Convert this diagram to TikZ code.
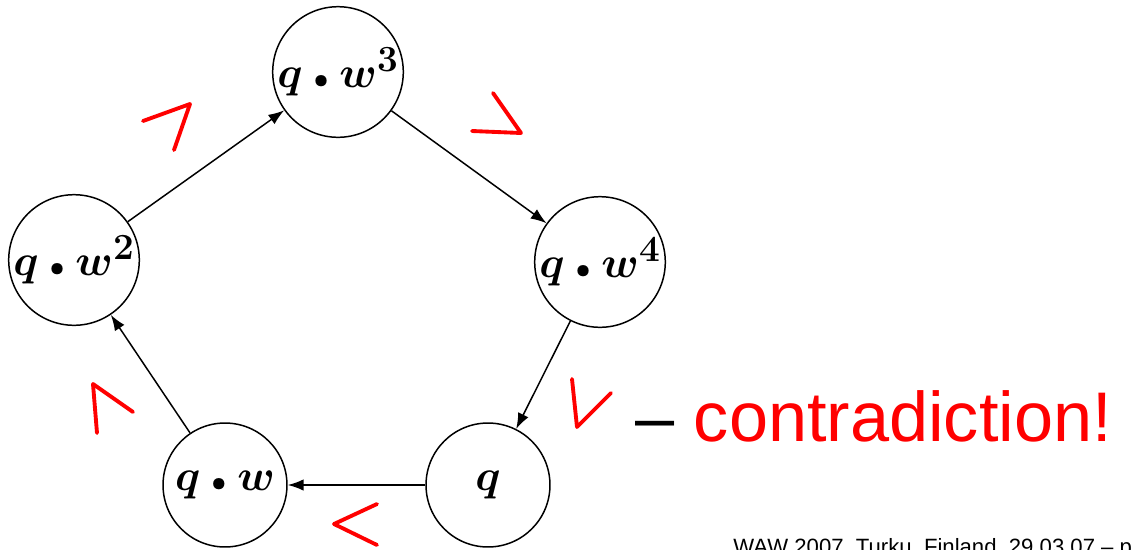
\documentclass[tikz,border=0pt]{standalone}
\usepackage{bm}
\usepackage[no-math]{fontspec}
\newfontfamily\slidefont{Liberation Sans}
\usetikzlibrary{arrows.meta}
\newcommand{\wdot}{\mathbin{\scriptscriptstyle\bullet}}
\newcommand{\wexp}[1]{^{\mbox{\fontsize{21}{22}\selectfont\bfseries #1}}}
\begin{document}
\begin{tikzpicture}[
  x=0.02cm,y=-0.02cm,
  state/.style={draw, circle, line width=0.85pt, inner sep=0pt, minimum size=2.48cm,
    font=\fontsize{29}{32}\selectfont\boldmath},
  trans/.style={-{Latex[length=9pt,width=6.5pt]}, line width=0.85pt},
  relmark/.style={draw=red, line width=2.2pt, line cap=round, line join=round}
]

% Canvas: 1134x549 px
\useasboundingbox (0,0) rectangle (1134,549);
\clip (0,0) rectangle (1134,549);

% States of the cycle
\node[state] (qw3) at (338,72) {$\bm{q\wdot w}\wexp{3}$};
\node[state] (qw2) at (74,260) {$\bm{q\wdot w}\wexp{2}$};
\node[state] (qw4) at (600,262) {$\bm{q\wdot w}\wexp{4}$};
\node[state] (qw) at (225,485) {$\bm{q\wdot w}$};
\node[state] (q) at (488,485) {$\bm{q}$};

% Transitions
\draw[trans] (qw2) -- (qw3);
\draw[trans] (qw3) -- (qw4);
\draw[trans] (qw4) -- (q);
\draw[trans] (q) -- (qw);
\draw[trans] (qw) -- (qw2);

% Hand-drawn order relations
\draw[relmark] (143,121) -- (190,104) -- (174,150);
\draw[relmark] (493,93) -- (521,133) -- (472,131);
\draw[relmark] (572,379) -- (577,427) -- (611,393);
\draw[relmark] (93,384) -- (97,433);
\draw[relmark] (93,384) -- (133,412);
\draw[relmark] (377,504) -- (334,524) -- (377,545);

% Conclusion
\node[anchor=base west, inner sep=0pt, font=\slidefont\fontsize{40}{44}\selectfont]
  (contra) at (635,441) {–\ \textcolor{red}{contradiction!}};

% Footer
\node[anchor=base west, inner sep=0pt, font=\slidefont\fontsize{12.6}{14}\selectfont]
  (footer) at (733,554) {WAW 2007, Turku, Finland, 29.03.07 – p.};

\end{tikzpicture}
\end{document}
